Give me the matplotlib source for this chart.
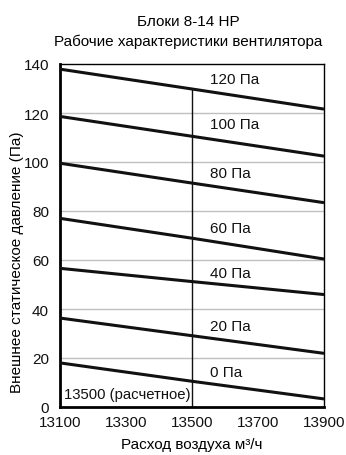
import matplotlib
matplotlib.use("Agg")
import matplotlib.pyplot as plt

plt.rcParams['font.family'] = ['Liberation Sans', 'DejaVu Sans']

airflow = [13100, 13500, 13900]
curve_labels = ["120 Па", "100 Па", "80 Па", "60 Па", "40 Па", "20 Па", "0 Па"]
curves = [
    [137.9, 129.8, 121.6],
    [118.6, 110.5, 102.4],
    [99.5, 91.4, 83.4],
    [77.0, 68.9, 60.4],
    [56.6, 51.2, 45.9],
    [36.3, 29.1, 21.9],
    [18.0, 10.5, 3.3],
]
label_y = [133.9, 115.5, 95.5, 73.0, 54.6, 32.9, 14.2]
label_x = 13554
rated_flow = 13500
rated_label = "13500 (расчетное)"
xticks = [13100, 13300, 13500, 13700, 13900]
yticks = [0, 20, 40, 60, 80, 100, 120, 140]

fig = plt.figure(figsize=(3.46, 4.56), dpi=100)
ax = fig.add_axes([60/346, 1-408/456, 264/346, 343/456])

for y in yticks[1:-1]:
    ax.axhline(y, color='#c0c0c0', lw=1.0, zorder=1)

for vals in curves:
    ax.plot(airflow, vals, color='#111111', lw=2.2, zorder=3, solid_capstyle='butt')

ax.plot([rated_flow, rated_flow], [0, curves[0][1]], color='#111111', lw=1.0, zorder=2)

for lab, y in zip(curve_labels, label_y):
    ax.text(label_x, y, lab, fontsize=11, va='center', ha='left', color='#111111')

ax.text(rated_flow - 5, 5.3, rated_label, fontsize=10.7, va='center', ha='right', color='#111111')

ax.set_xlim(13100, 13900)
ax.set_ylim(0, 140)
ax.set_xticks(xticks)
ax.set_yticks(yticks)
ax.tick_params(axis='both', length=0, labelsize=11, colors='#111111')
ax.tick_params(axis='x', pad=6)
ax.tick_params(axis='y', pad=8)
for lbl in ax.get_xticklabels():
    lbl.set_x(lbl.get_position()[0])
for s in ['top', 'right']:
    ax.spines[s].set_linewidth(1.0)
for s in ['left', 'bottom']:
    ax.spines[s].set_linewidth(2.0)

fig.text(192/346, 1-445/456, "Расход воздуха м³/ч", ha='center', va='center', fontsize=11)
fig.text(17/346, 1-262/456, "Внешнее статическое давление (Па)", ha='center', va='center',
         rotation=90, fontsize=11)
fig.text(188/346, 1-22/456, "Блоки 8-14 HP", ha='center', va='center', fontsize=11)
fig.text(188/346, 1-42/456, "Рабочие характеристики вентилятора", ha='center', va='center', fontsize=11)

fig.savefig("out.png", dpi=100)
